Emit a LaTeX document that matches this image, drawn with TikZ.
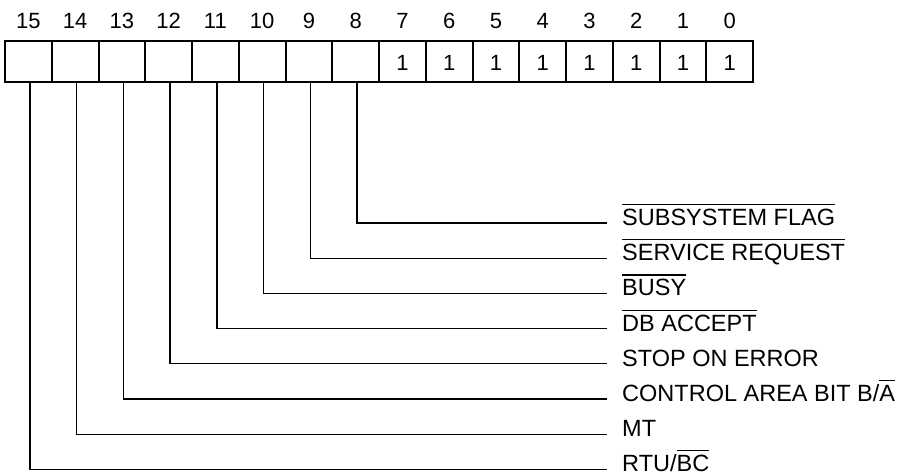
\documentclass[tikz,border=0pt]{standalone}
\usepackage{fontspec}
\setmainfont{Liberation Sans}
\newcommand\ovl[1]{\leavevmode\vbox{\hrule height 1.2pt \kern 3.8pt \hbox{#1}}}
\begin{document}
\begin{tikzpicture}[x=1pt,y=-1pt,
  cell/.style={draw,line width=2pt,minimum width=46.75pt,minimum height=41pt,inner sep=0pt,
    font=\fontsize{22}{26}\selectfont},
  bitnum/.style={anchor=base,inner sep=0pt,font=\fontsize{22}{26}\selectfont},
  lbl/.style={anchor=base west,inner sep=0pt,font=\fontsize{23.5}{27}\selectfont},
  conn/.style={line width=1.3pt}]
\useasboundingbox (0,0) rectangle (901,474);
\foreach \i in {15,...,0}{
  \pgfmathsetmacro\cx{5+46.75*(15-\i)+23.375}
  \node[cell] (c\i) at (\cx,61.5) {};
  \node[bitnum] (n\i) at (\cx,28.3) {\i};
}
\foreach \i in {7,...,0}{
  \node[bitnum] (v\i) at ([yshift=-8.5pt]c\i.center) {1};
}
% labels and connectors
\foreach \i/\y/\t in {
  8/223/{\ovl{SUBSYSTEM FLAG}},
  9/258.3/{\ovl{SERVICE REQUEST}},
  10/293.5/{\ovl{BUSY}},
  11/328.7/{\ovl{DB ACCEPT}},
  12/363.8/{STOP ON ERROR},
  13/399/{CONTROL AREA BIT B/\ovl{A}},
  14/434.2/{MT},
  15/469.3/{RTU/\ovl{BC}}}{
  \coordinate (e\i) at (607,\y);
  \node[lbl] (l\i) at (622,\y+2.3) {\t};
  \draw[conn] ([xshift=1.5pt]c\i.south) |- (e\i);
}
\end{tikzpicture}
\end{document}
